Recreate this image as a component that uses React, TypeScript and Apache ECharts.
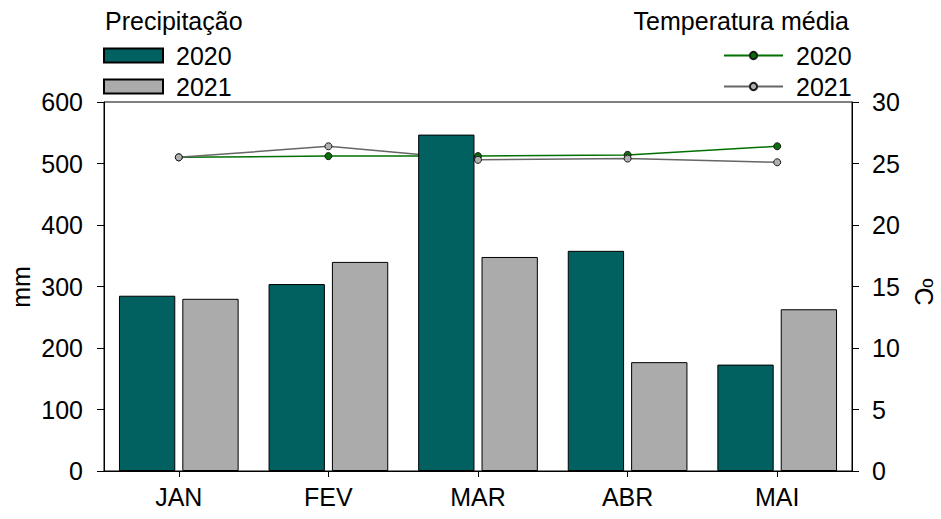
import React, { useEffect, useRef } from "react";
import * as echarts from "echarts";

const months = ["JAN", "FEV", "MAR", "ABR", "MAI"];
const precip2020 = [285, 304, 547, 358, 173];
const precip2021 = [280, 340, 348, 177, 263];
const temp2020 = [25.5, 25.6, 25.6, 25.7, 26.4];
const temp2021 = [25.5, 26.4, 25.3, 25.4, 25.1];
const mmTicks = { min: 0, max: 600, interval: 100 };
const cTicks = { min: 0, max: 30, interval: 5 };

const FONT = "'Liberation Sans', Arial, sans-serif";
const FS = 25;

export default function App() {
  const ref = useRef<HTMLDivElement>(null);
  useEffect(() => {
    if (!ref.current) return;
    const chart = echarts.init(ref.current, null, { renderer: "svg" });
    const textStyle = { fontFamily: FONT, fontSize: FS, color: "#000" };
    chart.setOption({
      animation: false,
      textStyle: { fontFamily: FONT },
      grid: {
        left: 104,
        right: 89,
        top: 102,
        bottom: 48,
        show: true,
        borderColor: "#000",
        borderWidth: 1,
        backgroundColor: "transparent",
      },
      legend: [
        {
          data: ["P2020", "P2021"],
          left: 103,
          top: 43,
          orient: "vertical",
          icon: "rect",
          itemWidth: 59,
          itemHeight: 14,
          itemGap: 6,
          formatter: (n: string) => n.slice(1),
          textStyle: { ...textStyle, padding: [0, 0, 0, 8] },
          padding: 0,
          selectedMode: false,
        },
        {
          data: ["T2020", "T2021"],
          left: 723,
          top: 43,
          orient: "vertical",
          itemWidth: 59,
          itemHeight: 9,
          itemGap: 6,
          formatter: (n: string) => n.slice(1),
          textStyle: { ...textStyle, padding: [0, 0, 0, 8] },
          padding: 0,
          selectedMode: false,
        },
      ],
      graphic: [
        {
          type: "text",
          left: 105,
          top: 8,
          style: { text: "Precipitação", font: `${FS}px ${FONT}`, fill: "#000" },
        },
        {
          type: "text",
          right: 92,
          top: 8,
          style: { text: "Temperatura média", font: `${FS}px ${FONT}`, fill: "#000" },
        },
        {
          type: "text",
          x: 21,
          y: 287,
          rotation: Math.PI / 2,
          style: {
            text: "mm",
            font: `${FS}px ${FONT}`,
            fill: "#000",
            align: "center",
            verticalAlign: "middle",
          },
        },
        {
          type: "text",
          x: 924,
          y: 292,
          rotation: -Math.PI / 2,
          style: {
            text: "ºC",
            font: `${FS}px ${FONT}`,
            fill: "#000",
            align: "center",
            verticalAlign: "middle",
          },
        },
      ],
      xAxis: {
        type: "category",
        data: months,
        axisLine: { show: true, lineStyle: { color: "#000", width: 1 } },
        axisTick: { show: true, alignWithLabel: true, length: 6, lineStyle: { color: "#000" } },
        axisLabel: { ...textStyle, margin: 13 },
        splitLine: { show: false },
      },
      yAxis: [
        {
          type: "value",
          ...mmTicks,
          position: "left",
          axisLine: { show: true, lineStyle: { color: "#000", width: 1 } },
          axisTick: { show: true, length: 7, lineStyle: { color: "#000" } },
          axisLabel: { ...textStyle, margin: 21 },
          splitLine: { show: false },
        },
        {
          type: "value",
          ...cTicks,
          position: "right",
          axisLine: { show: true, lineStyle: { color: "#000", width: 1 } },
          axisTick: { show: true, length: 7, lineStyle: { color: "#000" } },
          axisLabel: { ...textStyle, margin: 20 },
          splitLine: { show: false },
        },
      ],
      series: [
        {
          name: "T2020",
          type: "line",
          yAxisIndex: 1,
          data: temp2020,
          z: 1,
          symbol: "circle",
          symbolSize: 7,
          lineStyle: { color: "#007000", width: 1.5 },
          itemStyle: { color: "#0a6e0a", borderColor: "#1a1a1a", borderWidth: 1 },
        },
        {
          name: "T2021",
          type: "line",
          yAxisIndex: 1,
          data: temp2021,
          z: 1,
          symbol: "circle",
          symbolSize: 7,
          lineStyle: { color: "#666666", width: 1.5 },
          itemStyle: { color: "#b0b0b0", borderColor: "#1a1a1a", borderWidth: 1 },
        },
        {
          name: "P2020",
          type: "bar",
          data: precip2020,
          z: 2,
          barCategoryGap: "20%",
          barGap: "12.5%",
          itemStyle: { color: "#016060", borderColor: "#000", borderWidth: 1 },
        },
        {
          name: "P2021",
          type: "bar",
          data: precip2021,
          z: 2,
          barCategoryGap: "20%",
          barGap: "12.5%",
          itemStyle: { color: "#ababab", borderColor: "#000", borderWidth: 1 },
        },
      ],
    });
    return () => chart.dispose();
  }, []);
  return <div ref={ref} style={{ width: 941, height: 519, position: "absolute", left: 0, top: 0 }} />;
}
